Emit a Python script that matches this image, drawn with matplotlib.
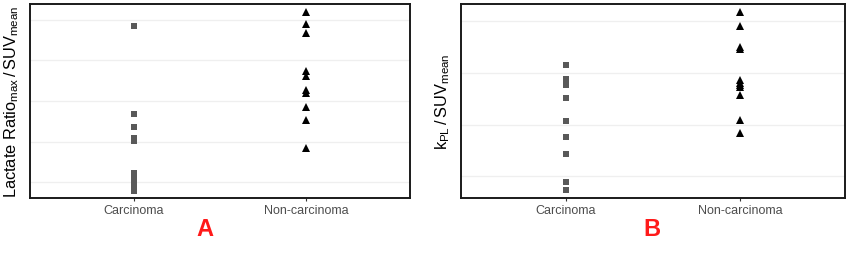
import matplotlib
matplotlib.use("Agg")
import matplotlib.pyplot as plt

plt.rcParams['font.family'] = ['Liberation Sans', 'DejaVu Sans']

categories = ["Carcinoma", "Non-carcinoma"]

# Panel A: Lactate Ratio_max / SUV_mean (arbitrary units, no y tick labels)
a_carcinoma = [4.85, 2.67, 2.37, 2.09, 2.02, 1.23, 1.16, 1.08, 1.01, 0.93, 0.86, 0.79]
a_noncarcinoma = [5.20, 4.90, 4.67, 3.75, 3.61, 3.26, 3.19, 2.86, 2.52, 1.83]
a_grid = [1, 2, 3, 4, 5]

# Panel B: kPL / SUV_mean
b_carcinoma = [3.15, 2.88, 2.82, 2.76, 2.51, 2.07, 1.75, 1.43, 0.89, 0.735]
b_noncarcinoma = [4.18, 3.91, 3.50, 3.46, 2.86, 2.80, 2.76, 2.72, 2.57, 2.09, 1.84]
b_grid = [1, 2, 3, 4]

fig = plt.figure(figsize=(8.51, 2.55), dpi=100)
axA = fig.add_axes([30/851, 1-199/255, 380/851, 194/255])
axB = fig.add_axes([460.7/851, 1-199/255, 384.3/851, 194/255])

def style(ax, grid, ylim, ylabel):
    ax.set_xlim(0.4, 2.6)
    ax.set_ylim(*ylim)
    ax.set_yticks(grid)
    ax.set_yticklabels([])
    ax.tick_params(axis='y', length=0)
    ax.set_xticks([1, 2])
    ax.set_xticklabels(categories, fontsize=9, color='#4d4d4d')
    ax.tick_params(axis='x', length=2.5, width=0.8, color='#333333', pad=2)
    ax.grid(axis='y', color='#efefef', linewidth=0.9)
    ax.set_axisbelow(True)
    for s in ax.spines.values():
        s.set_linewidth(1.4)
        s.set_color('#1a1a1a')
    ax.set_ylabel(ylabel, fontsize=11.8, labelpad=3)

def draw(ax, carc, noncarc):
    ax.plot([1]*len(carc), carc, linestyle='none', marker='s', markersize=4.3,
            color='#595959', markeredgewidth=0)
    ax.plot([2]*len(noncarc), noncarc, linestyle='none', marker='^', markersize=5.2,
            color='black', markeredgewidth=0)

draw(axA, a_carcinoma, a_noncarcinoma)
style(axA, a_grid, (0.61, 5.39),
      r'Lactate Ratio$_{\mathregular{max}}$$\,$/$\,$SUV$_{\mathregular{mean}}$')
draw(axB, b_carcinoma, b_noncarcinoma)
style(axB, b_grid, (0.58, 4.33), r'k$_{\mathregular{PL}}$$\,$/$\,$SUV$_{\mathregular{mean}}$')

fig.text(205/851, 1-230/255, 'A', color='#ff1a1a', fontsize=17, fontweight='bold',
         ha='center', va='center')
fig.text(652/851, 1-230/255, 'B', color='#ff1a1a', fontsize=17, fontweight='bold',
         ha='center', va='center')

fig.savefig('out.png', dpi=100)
